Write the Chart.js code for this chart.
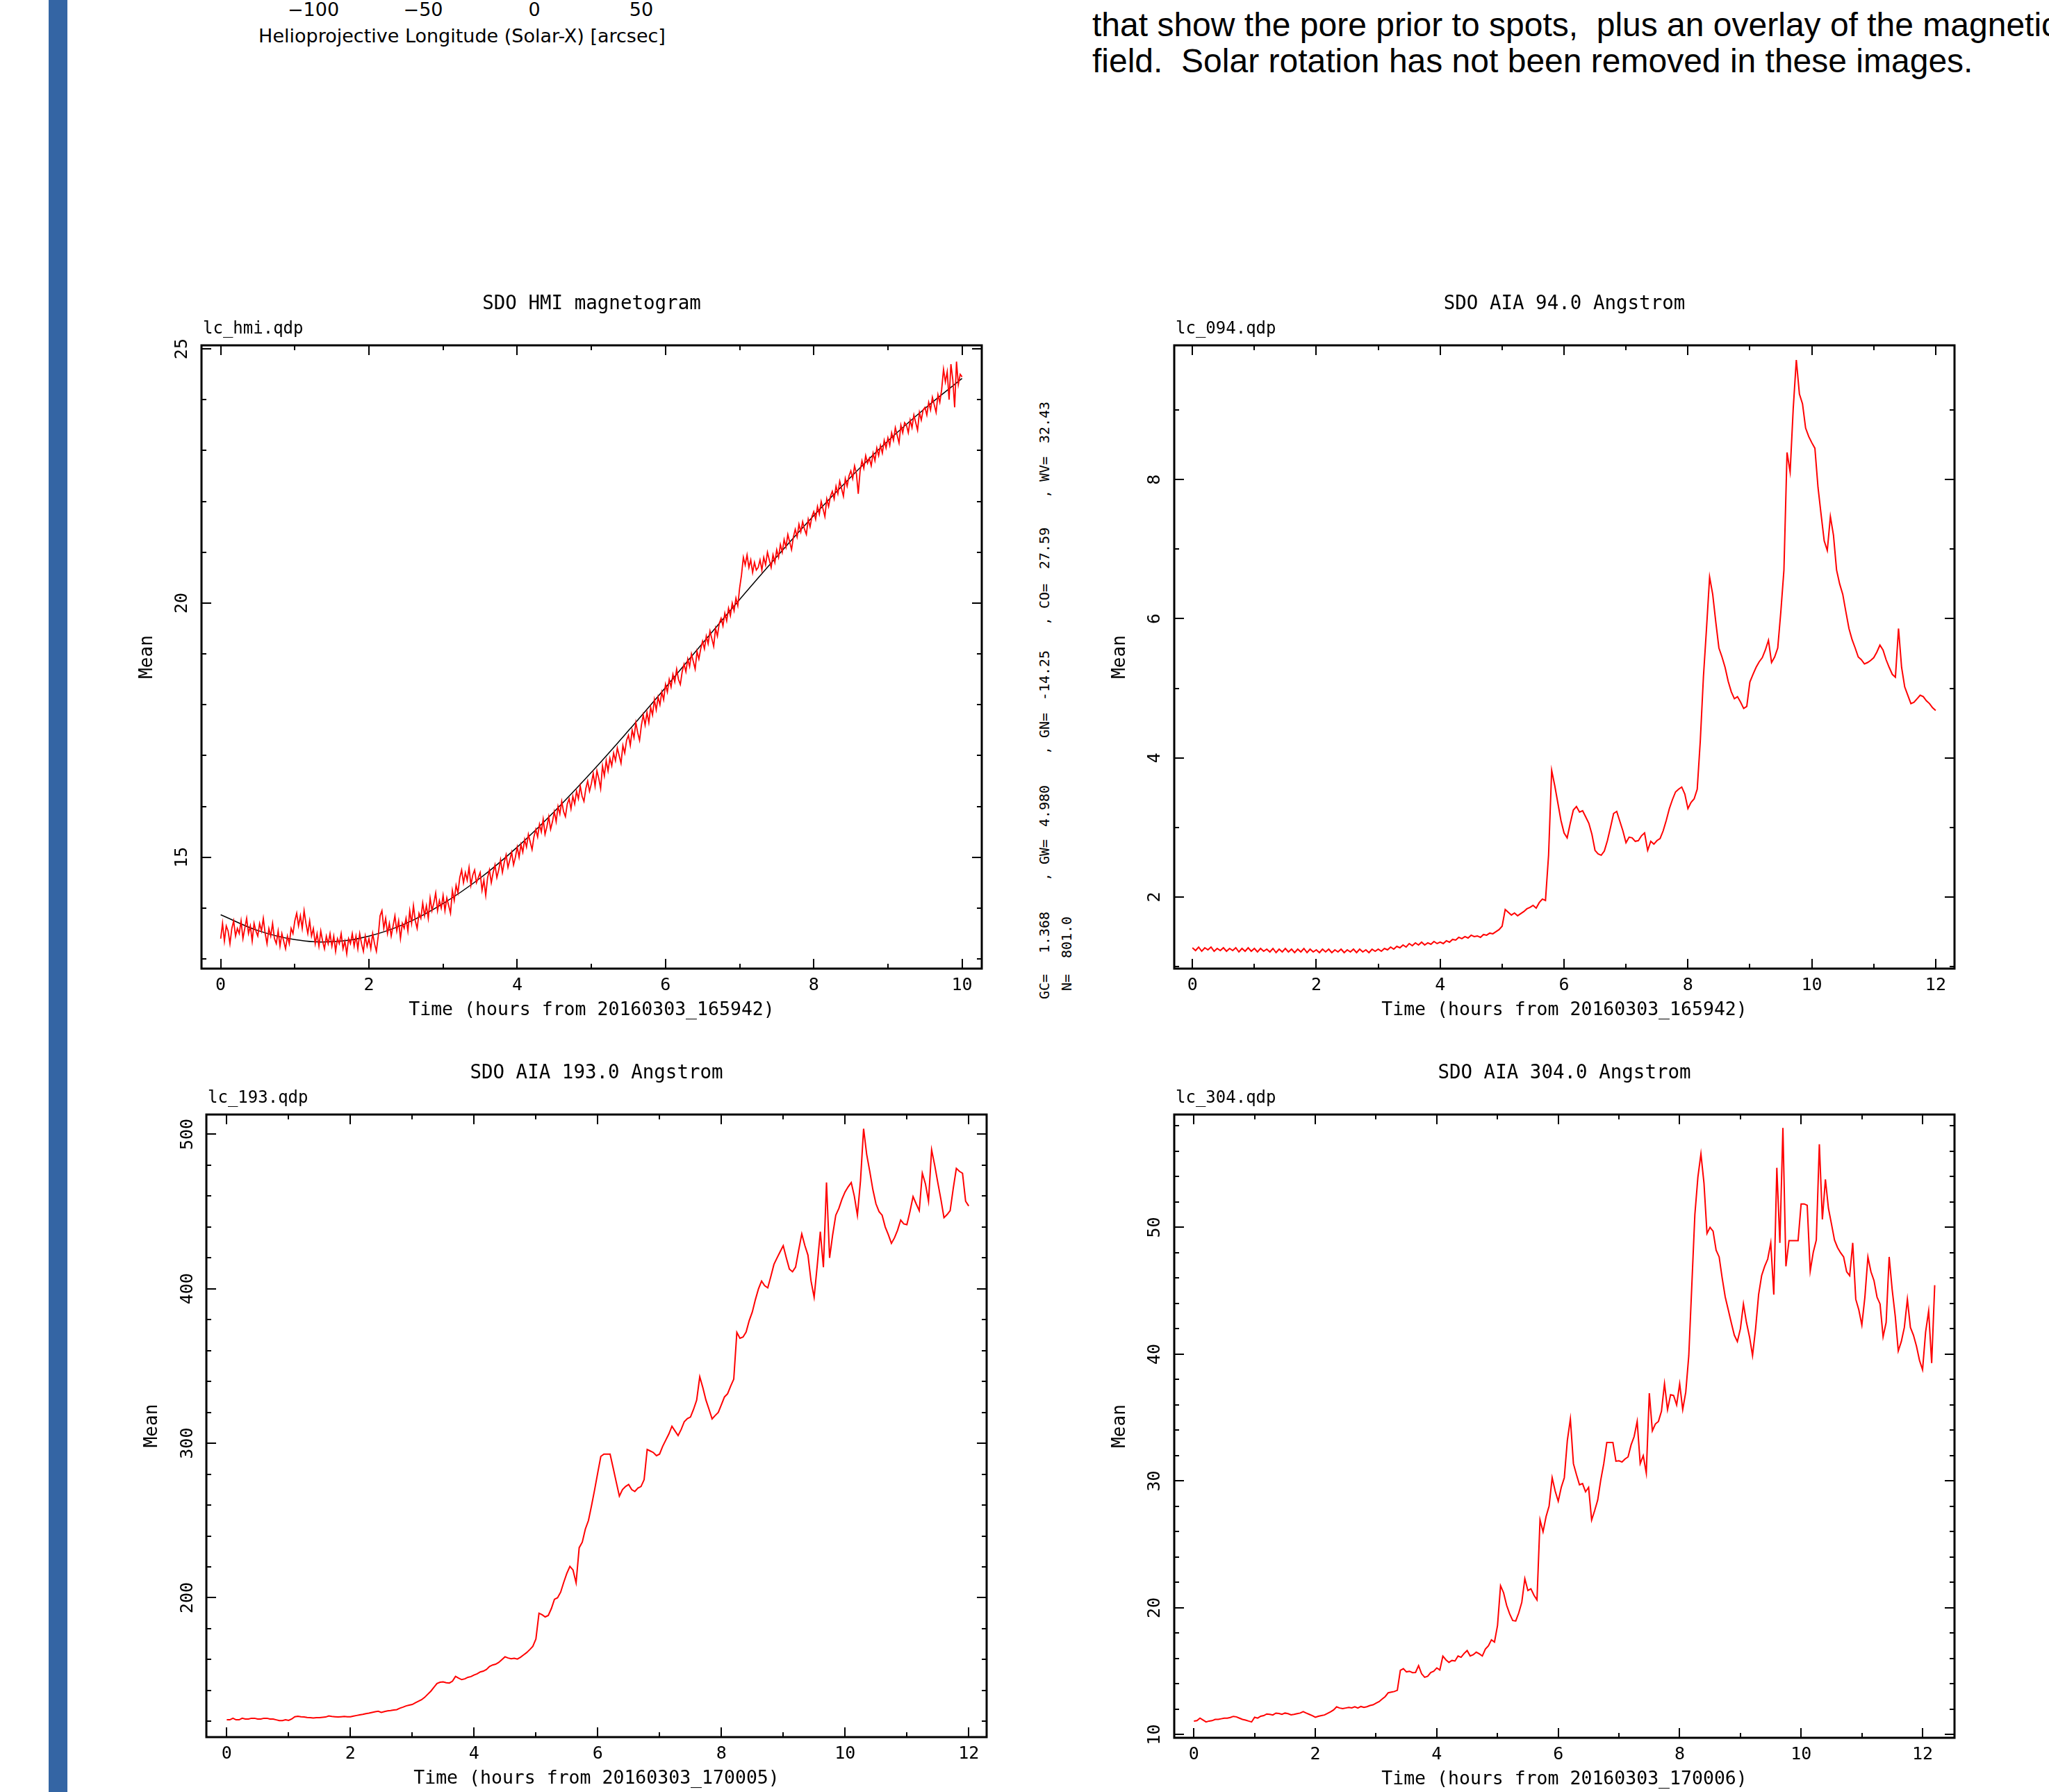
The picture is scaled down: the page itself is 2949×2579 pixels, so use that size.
<!DOCTYPE html>
<html>
<head>
<meta charset="utf-8">
<title>SDO light curves</title>
<script src="https://cdn.jsdelivr.net/npm/chart.js@4.4.1/dist/chart.umd.min.js"></script>
<style>
  html, body { margin: 0; padding: 0; background: #fff; }
  body { width: 2949px; height: 2579px; position: relative; overflow: hidden; }
  .bar { position: absolute; left: 70px; top: 0; width: 27px; height: 2579px; background: #3465a4; }
  canvas { position: absolute; }
  .txt { position: absolute; white-space: pre; color: #000; }
  .mpl { font-family: 'DejaVu Sans', sans-serif; font-size: 27px; transform: translate(-50%, -50%); }
  .para { font-family: 'Liberation Sans', Arial, sans-serif; font-size: 48px; line-height: 48px; left: 1572px; }
  .fit { font-family: 'DejaVu Sans Mono', monospace; font-size: 20px; transform: translate(-50%, -50%) rotate(-90deg); }
</style>
</head>
<body>
<div class="bar"></div>

<!-- restos del poster alrededor de los graficos -->
<div class="txt mpl" style="left:451px; top:13px">−100</div>
<div class="txt mpl" style="left:609px; top:13px">−50</div>
<div class="txt mpl" style="left:769px; top:13px">0</div>
<div class="txt mpl" style="left:923px; top:13px">50</div>
<div class="txt mpl" style="left:665px; top:51px">Helioprojective Longitude (Solar-X) [arcsec]</div>
<div class="txt para" style="top:12px">that show the pore prior to spots,  plus an overlay of the magnetic</div>
<div class="txt para" style="top:64px">field.  Solar rotation has not been removed in these images.</div>

<!-- parametros del ajuste (texto vertical) -->
<div class="txt fit" style="left:1503px; top:1420px">GC=</div>
<div class="txt fit" style="left:1503px; top:1342px">1.368</div>
<div class="txt fit" style="left:1503px; top:1238px">, GW=</div>
<div class="txt fit" style="left:1503px; top:1160px">4.980</div>
<div class="txt fit" style="left:1503px; top:1056px">, GN=</div>
<div class="txt fit" style="left:1503px; top:972px">-14.25</div>
<div class="txt fit" style="left:1503px; top:870px">, CO=</div>
<div class="txt fit" style="left:1503px; top:789px">27.59</div>
<div class="txt fit" style="left:1503px; top:687px">, WV=</div>
<div class="txt fit" style="left:1503px; top:608px">32.43</div>
<div class="txt fit" style="left:1535px; top:1414px">N=</div>
<div class="txt fit" style="left:1535px; top:1349px">801.0</div>

<canvas id="chartHmi"></canvas>
<canvas id="chart094"></canvas>
<canvas id="chart193"></canvas>
<canvas id="chart304"></canvas>

<script>
// datos
const dtHmi = 0.025;   // HMI: una muestra cada 0.025 h
const dt = 0.05;       // AIA: una muestra cada 0.05 h

const hmiMean = [
  13.4,13.7,13.35,13.65,13.55,13.3,13.6,13.75,13.45,13.6,
  13.5,13.75,13.4,13.6,13.8,13.5,13.65,13.35,13.7,13.55,
  13.45,13.7,13.55,13.8,13.5,13.3,13.6,13.45,13.7,13.4,
  13.3,13.55,13.25,13.5,13.35,13.2,13.45,13.3,13.6,13.5,
  13.75,13.9,13.65,13.85,13.6,13.95,13.7,13.5,13.75,13.45,
  13.6,13.3,13.5,13.25,13.55,13.35,13.2,13.45,13.3,13.5,
  13.25,13.45,13.15,13.4,13.3,13.5,13.2,13.35,13.1,13.4,
  13.3,13.5,13.25,13.45,13.2,13.5,13.3,13.15,13.45,13.25,
  13.4,13.2,13.5,13.3,13.15,13.45,13.85,13.95,13.6,13.8,
  13.5,13.7,13.45,13.65,13.85,13.55,13.75,13.4,13.7,13.6,
  13.8,13.55,13.95,13.7,14.05,13.75,13.6,13.9,13.8,14.1,
  13.85,14.05,13.8,14.2,13.95,14.1,14.3,13.95,14.15,14.0,
  14.25,13.95,14.2,14.05,13.9,14.35,14.15,14.45,14.3,14.6,
  14.75,14.5,14.7,14.55,14.8,14.45,14.65,14.75,14.5,14.6,
  14.7,14.35,14.55,14.25,14.6,14.75,14.5,14.7,14.85,14.6,
  14.75,14.95,14.7,14.9,15.05,14.8,14.95,15.1,14.85,15.0,
  15.2,15.0,15.25,15.1,15.35,15.2,15.45,15.3,15.15,15.4,
  15.55,15.4,15.65,15.5,15.75,15.45,15.6,15.8,15.55,15.7,
  15.9,15.7,16.0,15.85,16.1,15.9,15.8,16.05,16.15,15.95,
  16.2,16.05,16.3,16.15,16.4,16.2,16.1,16.35,16.5,16.3,
  16.45,16.65,16.4,16.7,16.55,16.35,16.8,16.6,16.9,16.7,
  16.95,16.8,17.05,16.9,17.15,17.0,16.85,17.2,17.05,17.3,
  17.4,17.2,17.5,17.35,17.65,17.45,17.3,17.6,17.8,17.6,
  17.85,17.65,17.95,17.8,18.1,17.9,18.15,18.0,18.25,18.1,
  18.4,18.25,18.5,18.35,18.6,18.45,18.7,18.5,18.4,18.65,
  18.8,18.65,18.9,18.75,19.0,18.85,18.7,19.05,18.9,19.1,
  19.25,19.1,19.35,19.2,19.45,19.3,19.15,19.5,19.35,19.6,
  19.7,19.55,19.8,19.65,19.9,19.75,20.0,19.85,20.1,19.95,
  20.3,20.55,20.9,20.75,20.95,20.7,20.85,20.6,20.8,20.65,
  20.7,20.85,20.65,20.9,20.75,21.0,20.85,20.7,20.95,20.8,
  21.05,20.9,21.15,21.0,21.25,21.1,21.35,21.2,21.05,21.3,
  21.45,21.3,21.55,21.4,21.6,21.45,21.35,21.65,21.5,21.7,
  21.8,21.65,21.9,21.75,22.0,21.85,21.7,22.05,21.9,22.1,
  22.2,22.05,22.3,22.15,22.4,22.25,22.1,22.45,22.3,22.5,
  22.6,22.45,22.7,22.55,22.15,22.6,22.8,22.65,22.9,22.75,
  22.85,22.7,22.95,22.8,23.05,22.9,23.1,22.95,23.2,23.05,
  23.25,23.1,23.35,23.2,23.45,23.3,23.15,23.5,23.35,23.55,
  23.5,23.35,23.6,23.45,23.7,23.55,23.4,23.75,23.6,23.8,
  23.85,23.7,23.95,23.8,24.05,23.9,23.75,24.1,23.95,24.2,
  24.6,24.35,24.55,24.0,24.7,24.4,23.85,24.75,24.3,24.5,
  24.45
];
const hmiFitTime = [0,0.5,1,1.5,2,2.5,3,3.5,4,4.5,5,5.5,6,6.5,7,7.5,8,8.5,9,9.5,10];
const hmiFitMean = [13.87,13.56,13.38,13.34,13.45,13.70,14.09,14.59,15.20,15.90,16.67,17.49,18.34,19.21,20.07,20.91,21.72,22.48,23.19,23.83,24.42];

const aia094Mean = [
  1.27,1.23,1.28,1.22,1.27,1.24,1.28,1.22,1.26,1.23,1.27,1.22,1.26,1.23,1.27,1.21,1.26,1.22,1.27,1.22,
  1.26,1.21,1.26,1.22,1.25,1.21,1.26,1.20,1.25,1.21,1.26,1.21,1.25,1.20,1.25,1.21,1.26,1.20,1.25,1.21,
  1.24,1.20,1.25,1.21,1.25,1.20,1.24,1.21,1.25,1.20,1.24,1.21,1.25,1.20,1.25,1.21,1.24,1.20,1.25,1.22,
  1.25,1.22,1.26,1.24,1.28,1.25,1.29,1.27,1.31,1.28,1.33,1.30,1.34,1.31,1.35,1.31,1.34,1.32,1.36,1.33,
  1.35,1.33,1.37,1.35,1.39,1.38,1.42,1.40,1.43,1.41,1.45,1.43,1.44,1.42,1.46,1.45,1.48,1.47,1.50,1.53,
  1.58,1.82,1.78,1.74,1.77,1.73,1.76,1.79,1.83,1.85,1.88,1.84,1.92,1.97,1.95,2.60,3.82,3.60,3.35,3.10,
  2.92,2.85,3.06,3.25,3.30,3.22,3.24,3.15,3.06,2.90,2.67,2.62,2.60,2.66,2.81,3.00,3.20,3.23,3.09,2.95,
  2.78,2.86,2.85,2.80,2.81,2.88,2.92,2.67,2.80,2.76,2.81,2.84,2.95,3.10,3.27,3.40,3.51,3.55,3.58,3.48,
  3.27,3.36,3.41,3.55,4.25,5.16,5.86,6.60,6.35,5.95,5.58,5.45,5.30,5.10,4.95,4.85,4.88,4.80,4.71,4.74,
  5.09,5.20,5.30,5.38,5.44,5.55,5.69,5.37,5.45,5.58,6.10,6.70,8.39,8.11,9.02,9.72,9.23,9.09,8.74,8.62,
  8.53,8.45,7.89,7.50,7.12,6.98,7.47,7.20,6.70,6.50,6.35,6.10,5.86,5.70,5.58,5.45,5.41,5.35,5.37,5.40,
  5.44,5.52,5.62,5.55,5.41,5.30,5.20,5.16,5.86,5.30,5.02,4.90,4.78,4.80,4.85,4.90,4.88,4.82,4.78,4.72,
  4.68
];

const aia193Mean = [
  121,121,122,121,121,122,121.5,121.5,122,122,121.5,121.5,122,122,121.5,121.5,121,120.5,120.5,121,
  120.6,121.5,123,123.3,123,122.8,122.5,122.4,122.2,122.4,122.4,122.6,122.8,123.5,123.2,123,122.8,123,123.2,123,
  123,123.4,123.8,124.2,124.5,125,125.3,125.8,126.2,126.5,125.8,126.3,126.8,127,127.3,127.6,128.5,129.2,130,130.5,
  130.9,132,133,134,135.5,137.5,139.5,142,144.5,145.3,145.5,145,144.8,146,149.1,148,147,147.5,148.5,149,
  150,150.8,152,152.5,153.6,155.5,156.5,157,158.2,160,161.8,161,160.5,160.8,160.3,161.5,163,164.5,166.4,168.5,
  173.3,190,189,187.6,188.5,193,199,200,203.6,210,215.8,220.3,218,209.7,232.4,236,244.5,250,259.7,270,
  280.9,291.5,293,293,293,284,274.8,265.8,270,272,273.3,270,268.8,271,272,276.4,296,295,294,292,
  293,298,302,306,311,308,305,309,314,316,317,322,327.9,343,336,328,322,315.8,318,320,
  325,330,332,337,341.5,371.8,368,368.8,372,379.4,385,393,400,405,402,400.6,408,415.8,420,424,
  427.9,420,412.7,411,414,425,435.5,428,421.8,405,394.5,415,437,414,468.8,420,435,447.6,452,458,
  462.7,466,468.8,460,447.6,470,503.6,487,476,464.2,455,450,447.6,440,435,429.4,433,438,444.5,442,
  441.5,450,459.7,455,450.6,474.8,468,456.7,490,480,468.8,458,446,448,450.6,465,477.9,476,474.8,456.7,
  453.6
];

const aia304Mean = [
  11.07,11.1,11.3,11.15,11.0,11.07,11.1,11.2,11.2,11.25,11.3,11.3,11.35,11.44,11.4,11.3,11.2,11.15,11.07,11.0,
  11.37,11.3,11.45,11.5,11.63,11.6,11.55,11.7,11.67,11.6,11.7,11.65,11.56,11.6,11.65,11.7,11.81,11.7,11.6,11.5,
  11.37,11.45,11.5,11.55,11.67,11.8,11.95,12.19,12.1,12.05,12.1,12.15,12.11,12.2,12.1,12.22,12.15,12.2,12.3,12.35,
  12.48,12.6,12.8,13.0,13.3,13.35,13.4,13.5,15.07,15.2,14.95,15.0,14.89,14.9,15.44,14.8,14.52,14.6,14.9,15.0,
  15.26,15.1,16.19,15.9,15.7,15.85,15.81,16.2,16.1,16.4,16.63,16.2,16.3,16.5,16.37,16.2,16.74,17.0,17.48,17.3,
  18.6,21.74,21.19,20.2,19.52,19.0,18.96,19.6,20.44,22.3,21.37,21.5,21.0,20.63,26.93,26.0,27.2,28.04,30.26,29.2,
  28.41,29.5,30.26,33.2,34.89,31.37,30.5,29.7,29.8,29.15,29.5,26.93,27.67,28.5,30.07,31.37,33.04,33.04,33.04,31.56,
  31.6,31.5,31.74,31.9,32.85,33.5,34.7,31.37,32.0,30.63,36.93,33.96,34.5,34.7,35.5,37.67,35.63,36.8,36.74,36.0,
  37.67,35.63,37.0,39.89,45.44,51.0,53.96,55.8,53.5,49.52,50.0,49.7,48.2,47.67,46.0,44.52,43.5,42.48,41.5,41.0,
  42.0,43.96,42.5,41.37,39.89,42.0,44.7,46.2,46.93,47.5,48.78,44.7,54.7,48.78,57.85,46.93,48.96,48.96,48.96,48.96,
  51.85,51.85,51.74,46.56,48.04,49.0,56.56,50.63,53.78,51.5,50.26,49.0,48.41,48.0,47.67,46.5,46.19,48.78,44.33,43.5,
  42.3,44.5,47.67,46.5,45.81,44.5,43.96,41.37,42.5,47.67,45.07,43.0,40.26,41.0,42.11,44.33,42.11,41.5,40.63,39.5,
  38.78,41.74,43.41,39.3,45.44
];

// marcas de los ejes
const hrMajor10 = [0,2,4,6,8,10];
const hrMinor10 = [1,3,5,7,9];
const hrMajor12 = [0,2,4,6,8,10,12];
const hrMinor12 = [1,3,5,7,9,11];
const hmiYMajor = [15,20,25];
const hmiYMinor = [13,14,16,17,18,19,21,22,23,24];
const aia094YMajor = [2,4,6,8];
const aia094YMinor = [1,3,5,7,9];
const aia193YMajor = [200,300,400,500];
const aia193YMinor = [120,140,160,180,220,240,260,280,320,340,360,380,420,440,460,480];
const aia304YMajor = [10,20,30,40,50];
const aia304YMinor = [12,14,16,18,22,24,26,28,32,34,36,38,42,44,46,48,52,54,56,58];

Chart.defaults.font.family = "'DejaVu Sans Mono', monospace";
Chart.defaults.color = '#000';

function toXY(values, step) {
  return values.map((v, i) => ({ x: Math.round(i * step * 1000) / 1000, y: v }));
}

// caja estilo PGPLOT: marcas hacia adentro en los cuatro lados, titulo y archivo
const qdpFrame = {
  id: 'qdpFrame',
  afterDatasetsDraw(chart, args, opts) {
    const { ctx, chartArea: a } = chart;
    const sx = chart.scales.x, sy = chart.scales.y;
    ctx.save();
    ctx.strokeStyle = '#000';
    ctx.lineWidth = 2;
    ctx.beginPath();
    const xMarks = (vals, len) => vals.forEach(v => {
      const px = Math.round(sx.getPixelForValue(v));
      ctx.moveTo(px, a.bottom); ctx.lineTo(px, a.bottom - len);
      ctx.moveTo(px, a.top); ctx.lineTo(px, a.top + len);
    });
    const yMarks = (vals, len) => vals.forEach(v => {
      const py = Math.round(sy.getPixelForValue(v));
      ctx.moveTo(a.left, py); ctx.lineTo(a.left + len, py);
      ctx.moveTo(a.right, py); ctx.lineTo(a.right - len, py);
    });
    xMarks(opts.xMajor, 14);
    xMarks(opts.xMinor, 7);
    yMarks(opts.yMajor, 14);
    yMarks(opts.yMinor, 7);
    ctx.stroke();
    ctx.lineWidth = 3;
    ctx.strokeRect(a.left, a.top, a.right - a.left, a.bottom - a.top);

    ctx.fillStyle = '#000';
    ctx.textBaseline = 'middle';
    ctx.textAlign = 'center';
    ctx.font = "27.5px 'DejaVu Sans Mono', monospace";
    ctx.fillText(opts.title, (a.left + a.right) / 2, a.top - 59);
    ctx.textAlign = 'left';
    ctx.font = "24px 'DejaVu Sans Mono', monospace";
    ctx.fillText(opts.file, a.left + 2, a.top - 23);
    ctx.restore();
  }
};

function qdpChart(id, box, datasets, s) {
  const cv = document.getElementById(id);
  cv.width = box.r - box.l + 160;
  cv.height = box.b - box.t + 200;
  cv.style.left = (box.l - 130) + 'px';
  cv.style.top = (box.t - 100) + 'px';

  return new Chart(cv.getContext('2d'), {
    type: 'line',
    data: { datasets: datasets },
    options: {
      responsive: false,
      animation: false,
      devicePixelRatio: 1,
      layout: { padding: { left: 0, top: 100, right: 30, bottom: 0 } },
      plugins: {
        legend: { display: false },
        tooltip: { enabled: false },
        qdpFrame: { title: s.title, file: s.file, xMajor: s.xMajor, xMinor: s.xMinor, yMajor: s.yMajor, yMinor: s.yMinor }
      },
      scales: {
        x: {
          type: 'linear',
          min: s.xMin,
          max: s.xMax,
          grid: { display: false, drawTicks: false },
          border: { display: false },
          afterBuildTicks: ax => { ax.ticks = s.xMajor.map(v => ({ value: v })); },
          afterFit: ax => { ax.height = 100; },
          ticks: { padding: 9, autoSkip: false, maxRotation: 0, font: { size: 25 } },
          title: { display: true, text: s.xTitle, font: { size: 26.5 }, padding: { top: 0, bottom: 24 } }
        },
        y: {
          type: 'linear',
          min: s.yMin,
          max: s.yMax,
          grid: { display: false, drawTicks: false },
          border: { display: false },
          afterBuildTicks: ax => { ax.ticks = s.yMajor.map(v => ({ value: v })); },
          afterFit: ax => { ax.width = 130; },
          ticks: { padding: s.yPad, autoSkip: false, minRotation: 90, maxRotation: 90, crossAlign: 'center', font: { size: 25 } },
          title: { display: true, text: 'Mean', font: { size: 26 }, padding: { top: 37, bottom: 0 } }
        }
      }
    },
    plugins: [qdpFrame]
  });
}

const redLine = { borderColor: '#ff0000', borderWidth: 2, pointRadius: 0, tension: 0, fill: false };

// grafico HMI
qdpChart('chartHmi', { l: 290, t: 497, r: 1413, b: 1394 }, [
  Object.assign({ data: toXY(hmiMean, dtHmi) }, redLine, { borderWidth: 1.8 }),
  { data: hmiFitTime.map((t, i) => ({ x: t, y: hmiFitMean[i] })), borderColor: '#000', borderWidth: 1.5, pointRadius: 0, tension: 0.4, fill: false }
], {
  title: 'SDO HMI magnetogram', file: 'lc_hmi.qdp', xTitle: 'Time (hours from 20160303_165942)',
  xMin: -0.259, xMax: 10.266, yMin: 12.81, yMax: 25.07, yPad: 12,
  xMajor: hrMajor10, xMinor: hrMinor10, yMajor: hmiYMajor, yMinor: hmiYMinor
});

// grafico 94
qdpChart('chart094', { l: 1690, t: 497, r: 2813, b: 1394 }, [
  Object.assign({ data: toXY(aia094Mean, dt) }, redLine)
], {
  title: 'SDO AIA 94.0 Angstrom', file: 'lc_094.qdp', xTitle: 'Time (hours from 20160303_165942)',
  xMin: -0.294, xMax: 12.304, yMin: 0.97, yMax: 9.93, yPad: 19.5,
  xMajor: hrMajor12, xMinor: hrMinor12, yMajor: aia094YMajor, yMinor: aia094YMinor
});

// grafico 193
qdpChart('chart193', { l: 297, t: 1604, r: 1420, b: 2500 }, [
  Object.assign({ data: toXY(aia193Mean, dt) }, redLine)
], {
  title: 'SDO AIA 193.0 Angstrom', file: 'lc_193.qdp', xTitle: 'Time (hours from 20160303_170005)',
  xMin: -0.33, xMax: 12.29, yMin: 109.8, yMax: 512.8, yPad: 4.4,
  xMajor: hrMajor12, xMinor: hrMinor12, yMajor: aia193YMajor, yMinor: aia193YMinor
});

// grafico 304
qdpChart('chart304', { l: 1690, t: 1604, r: 2813, b: 2501 }, [
  Object.assign({ data: toXY(aia304Mean, dt) }, redLine)
], {
  title: 'SDO AIA 304.0 Angstrom', file: 'lc_304.qdp', xTitle: 'Time (hours from 20160303_170006)',
  xMin: -0.324, xMax: 12.526, yMin: 9.75, yMax: 58.9, yPad: 12,
  xMajor: hrMajor12, xMinor: hrMinor12, yMajor: aia304YMajor, yMinor: aia304YMinor
});
</script>
</body>
</html>
